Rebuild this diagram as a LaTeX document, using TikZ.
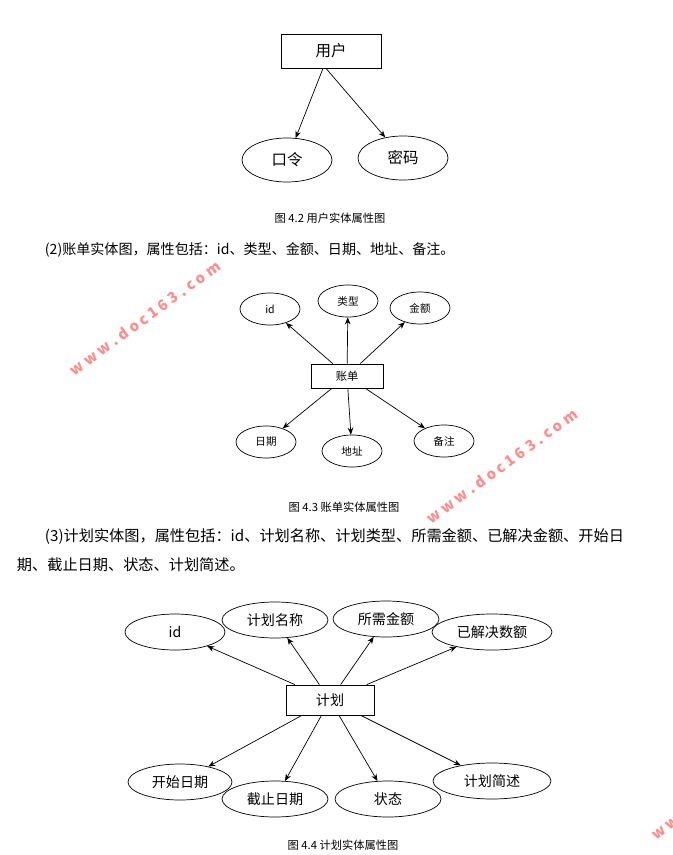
\documentclass[tikz,border=0pt]{standalone}
\usepackage{fontspec}
\setmainfont{Noto Sans CJK SC}
\usetikzlibrary{arrows.meta,shapes.geometric}

\tikzset{
  ent/.style={rectangle, draw, line width=0.6pt, inner sep=0pt},
  attr/.style={ellipse, draw, line width=0.5pt, inner sep=0pt},
  rel/.style={-{Stealth[length=5pt,width=4pt]}, line width=0.5pt},
  wmark/.style={text=red!45, font=\fontsize{10.5}{10.5}\selectfont\bfseries, rotate=36}
}

\begin{document}
\begin{tikzpicture}[x=0.025cm, y=-0.025cm]
            \useasboundingbox (0,0) rectangle (672,855);

            % Figure 4.2
            \node[ent, minimum width=100*0.025cm, minimum height=34*0.025cm, font=\fontsize{11}{11}\selectfont] (user) at (331,51) {用户};
            \node[attr, minimum width=90*0.025cm, minimum height=44*0.025cm, font=\fontsize{11}{11}\selectfont] (pwd) at (287,160) {口令};
            \node[attr, minimum width=90*0.025cm, minimum height=44*0.025cm, font=\fontsize{11}{11}\selectfont] (code) at (403,158) {密码};
            \draw[rel] (user.south) ++(-8,0) -- (pwd);
            \draw[rel] (user.south) ++(-5,0) -- (code);
            \node[font=\fontsize{8}{8}\selectfont] (cap1) at (330,218) {图 4.2 用户实体属性图};
            \node[anchor=west, font=\fontsize{10}{10}\selectfont] (txt1) at (40,250) {(2)账单实体图，属性包括：id、类型、金额、日期、地址、备注。};

            % Figure 4.3
            \node[ent, minimum width=72*0.025cm, minimum height=24*0.025cm, font=\fontsize{8}{8}\selectfont] (bill) at (347,376) {账单};
            \foreach \nm/\x/\y/\t in {bid/270/309/id, btype/348/301/类型, bamt/420/308/金额,
                                      bdate/266/442/日期, baddr/352/451/地址, bnote/444/441/备注}
              \node[attr, minimum width=60*0.025cm, minimum height=32*0.025cm, font=\fontsize{7.5}{7.5}\selectfont] (\nm) at (\x,\y) {\t};
            \foreach \nm in {bid, btype, bamt, bdate, baddr, bnote}
              \draw[rel] (bill) -- (\nm);
            \node[font=\fontsize{8}{8}\selectfont] (cap2) at (344,507) {图 4.3 账单实体属性图};
            \node[anchor=west, font=\fontsize{10.8}{10.8}\selectfont] (txt2) at (40,537) {(3)计划实体图，属性包括：id、计划名称、计划类型、所需金额、已解决金额、开始日};
            \node[anchor=west, font=\fontsize{10.8}{10.8}\selectfont] (txt3) at (12,565) {期、截止日期、状态、计划简述。};

            % Figure 4.4
            \node[ent, minimum width=88*0.025cm, minimum height=30*0.025cm, font=\fontsize{10}{10}\selectfont] (plan) at (330,700) {计划};
            \foreach \nm/\x/\y/\w/\t in {pid/175/632/100/id, pname/275/620/106/计划名称, pneed/386/619/106/所需金额,
                                         psolved/492/632/120/已解决数额, pstart/180/782/104/开始日期,
                                         pend/275/799/106/截止日期, pstate/388/799/106/状态, pdesc/492/781/118/计划简述}
              \node[attr, minimum width=\w*0.025cm, minimum height=36*0.025cm, font=\fontsize{10}{10}\selectfont] (\nm) at (\x,\y) {\t};
            \foreach \nm in {pid, pname, pneed, psolved, pstart, pend, pstate, pdesc}
              \draw[rel] (plan) -- (\nm);
            \node[font=\fontsize{8}{8}\selectfont] (cap3) at (343,845) {图 4.4 计划实体属性图};

            % Watermarks
            \node[wmark] (wm1) at (145,318) {w w w . d o c 1 6 3 . c o m};
            \node[wmark] (wm2) at (502,466) {w w w . d o c 1 6 3 . c o m};
            \node[wmark, anchor=west] (wm3) at (650,840) {w w};
        \end{tikzpicture}
\end{document}
